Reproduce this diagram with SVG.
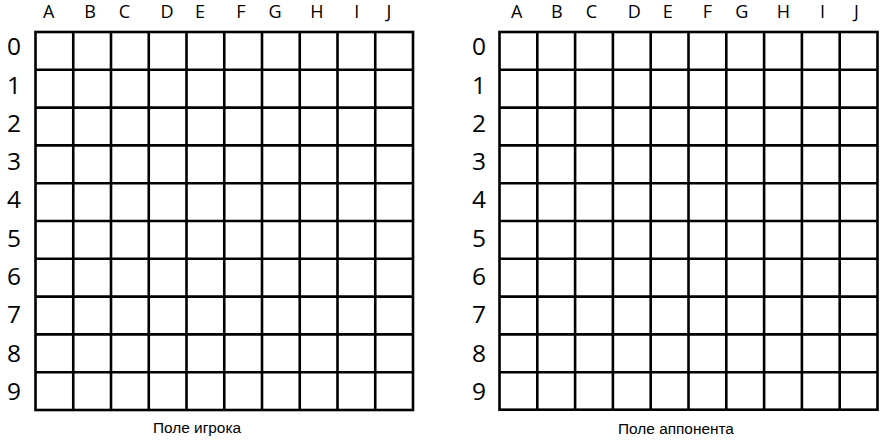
<svg xmlns="http://www.w3.org/2000/svg" width="893" height="443" viewBox="0 0 893 443">
<style>
.grid{fill:none;stroke:#000;stroke-width:2.6}
.col{font-family:"Open Sans","DejaVu Sans",sans-serif;font-size:18px;fill:#000;text-anchor:middle}
.row{font-family:"Open Sans","DejaVu Sans",sans-serif;font-size:24.5px;fill:#000;text-anchor:middle}
.cap{font-family:"Liberation Sans",Arial,sans-serif;font-size:15.4px;fill:#000;text-anchor:middle}
</style>
<rect width="893" height="443" fill="#fff"/>
<g id="player-board">
<rect class="grid" x="35.5" y="32" width="377.5" height="378"/>
<path class="grid" d="M73.25 32V410M111 32V410M148.75 32V410M186.5 32V410M224.25 32V410M262 32V410M299.75 32V410M337.5 32V410M375.25 32V410M35.5 69.8H413M35.5 107.6H413M35.5 145.4H413M35.5 183.2H413M35.5 221H413M35.5 258.8H413M35.5 296.6H413M35.5 334.4H413M35.5 372.2H413"/>
<g class="col">
<text x="48.7" y="17.8">A</text><text x="90" y="17.8">B</text><text x="124.5" y="17.8">C</text><text x="167" y="17.8">D</text><text x="200" y="17.8">E</text><text x="241" y="17.8">F</text><text x="275" y="17.8">G</text><text x="317" y="17.8">H</text><text x="356.7" y="17.8">I</text><text x="389" y="17.8">J</text>
</g>
<g class="row">
<text x="14" y="55.25">0</text><text x="14" y="93.55">1</text><text x="14" y="131.85">2</text><text x="14" y="170.15">3</text><text x="14" y="208.45">4</text><text x="14" y="246.75">5</text><text x="14" y="285.05">6</text><text x="14" y="323.35">7</text><text x="14" y="361.65">8</text><text x="14" y="399.95">9</text>
</g>
<text class="cap" x="197" y="433.3">Поле игрока</text>
</g>
<g id="opponent-board">
<rect class="grid" x="499.5" y="32" width="378" height="377.7"/>
<path class="grid" d="M537.3 32V409.7M575.1 32V409.7M612.9 32V409.7M650.7 32V409.7M688.5 32V409.7M726.3 32V409.7M764.1 32V409.7M801.9 32V409.7M839.7 32V409.7M499.5 69.8H877.5M499.5 107.6H877.5M499.5 145.4H877.5M499.5 183.2H877.5M499.5 221H877.5M499.5 258.8H877.5M499.5 296.6H877.5M499.5 334.4H877.5M499.5 372.2H877.5"/>
<g class="col">
<text x="516.7" y="17.8">A</text><text x="556.7" y="17.8">B</text><text x="591.3" y="17.8">C</text><text x="634.2" y="17.8">D</text><text x="667.8" y="17.8">E</text><text x="707.5" y="17.8">F</text><text x="741.7" y="17.8">G</text><text x="783.3" y="17.8">H</text><text x="822.5" y="17.8">I</text><text x="856.3" y="17.8">J</text>
</g>
<g class="row">
<text x="479" y="55.25">0</text><text x="479" y="93.55">1</text><text x="479" y="131.85">2</text><text x="479" y="170.15">3</text><text x="479" y="208.45">4</text><text x="479" y="246.75">5</text><text x="479" y="285.05">6</text><text x="479" y="323.35">7</text><text x="479" y="361.65">8</text><text x="479" y="399.95">9</text>
</g>
<text class="cap" x="676" y="434">Поле аппонента</text>
</g>
</svg>
